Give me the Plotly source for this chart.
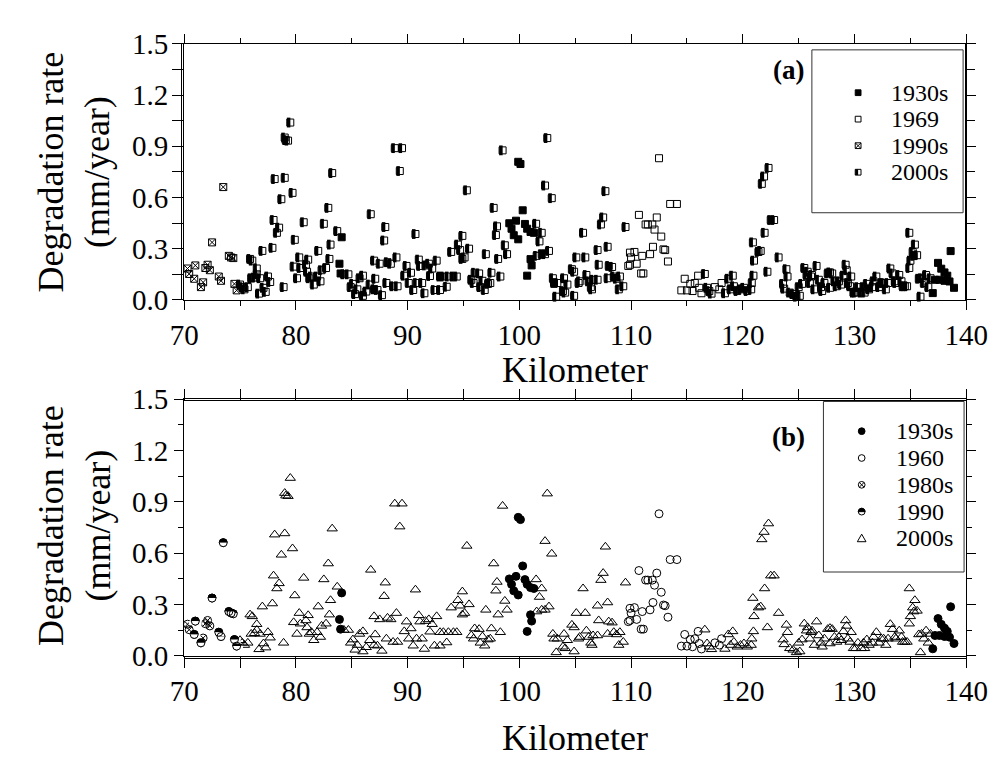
import math
import plotly.graph_objects as go

# ---------------- data (km, degradation rate mm/year) ----------------
km_1930s = [83.9, 84.0, 84.1,
            99.1, 99.3, 99.5, 99.7, 99.9, 99.9, 100.1, 100.3, 100.5, 100.7, 101.0, 101.3, 101.0, 101.1, 100.7,
            137.0, 137.2, 137.47, 137.6, 137.76, 138.05, 138.05, 138.3, 138.5, 138.6, 138.9]
rate_1930s = [0.212, 0.155, 0.367,
              0.449, 0.417, 0.379, 0.464, 0.355, 0.809, 0.796, 0.525, 0.445, 0.417, 0.398, 0.393, 0.239, 0.202, 0.142,
              0.040, 0.118, 0.217, 0.118, 0.183, 0.161, 0.112, 0.142, 0.108, 0.286, 0.071]

km_1960s = [109.75, 109.9, 109.9, 110.0, 110.3, 110.5, 110.7, 110.9, 111.0, 111.1, 111.3, 111.5, 111.7,
            111.9, 111.96, 112.1, 112.3, 112.5, 112.7, 112.9, 113.05, 113.3, 113.5, 114.1,
            114.5, 114.8, 115.0, 115.3, 115.5, 115.7, 116.0, 116.1, 116.3, 117.5, 117.9, 118.1]
rate_1960s = [0.199, 0.206, 0.277, 0.249, 0.281, 0.212, 0.498, 0.155, 0.258, 0.155, 0.442, 0.442, 0.268,
              0.442, 0.311, 0.412, 0.483, 0.830, 0.371, 0.296, 0.292, 0.225, 0.562, 0.562,
              0.056, 0.124, 0.056, 0.094, 0.052, 0.099, 0.142, 0.071, 0.039, 0.075, 0.062, 0.099]

km_1980s = [70.3, 70.45, 71.7, 71.9, 72.1, 72.3]
rate_1980s = [0.184, 0.152, 0.103, 0.187, 0.206, 0.174]

km_1990 = [70.9, 71.0, 71.5, 72.5, 73.1, 73.3, 73.5, 74.0, 74.2, 74.4, 74.5, 74.7]
rate_1990 = [0.124, 0.202, 0.075, 0.337, 0.137, 0.112, 0.661, 0.258, 0.249, 0.245, 0.094, 0.056]

km_2000s = [75.0, 75.2, 75.4, 75.7, 75.9, 76.0, 76.1, 76.3, 76.5, 76.5, 76.7, 76.8, 77.0, 77.1, 77.3, 77.5, 77.7,
            77.9, 78.0, 78.1, 78.3, 78.5, 78.7, 78.9, 79.0, 79.0, 79.1, 79.3, 79.5, 79.7, 79.8, 79.9, 80.1,
            80.3, 80.4, 80.7, 80.9, 81.0, 81.1, 81.2, 81.4, 81.6, 81.9, 82.0, 82.2, 82.3, 82.5, 82.7, 82.9,
            83.0, 83.1, 83.25, 83.7, 84.3, 84.7, 84.9, 85.1, 85.3, 85.5, 85.7, 86.0, 86.0, 86.3, 86.6, 86.7,
            87.0, 87.0, 87.1, 87.3, 87.5, 87.7, 87.9, 88.0, 88.1, 88.2, 88.5, 88.7, 88.85, 89.0, 89.1, 89.3,
            89.5, 89.7, 89.9, 90.1, 90.3, 90.5, 90.7, 90.8, 91.0, 91.1, 91.3, 91.5, 91.6, 91.9, 92.0, 92.2,
            92.4, 92.6, 92.9, 92.9, 93.2, 93.5, 93.65, 93.9, 94.1, 94.4, 94.5, 94.7, 94.9, 94.9, 95.1, 95.3,
            95.5, 95.7, 95.9, 96.0, 96.4, 96.5, 96.7, 96.9, 97.0, 97.2, 97.4, 97.5, 97.7, 97.9, 98.0, 98.1,
            98.3, 98.5, 98.7, 98.9, 101.5, 101.55, 101.8, 102.0, 102.0, 102.3, 102.3, 102.5, 102.65, 102.9,
            103.0, 103.1, 103.3, 103.4, 103.9, 104.0, 104.1, 104.3, 104.7, 104.9, 104.9, 105.1, 105.3, 105.4,
            105.7, 105.9, 106.0, 106.2, 106.4, 106.5, 106.6, 107.0, 107.0, 107.1, 107.3, 107.5, 107.7, 107.9,
            107.9, 108.0, 108.3, 108.45, 108.7, 108.9, 109.0, 109.3, 109.5, 116.6, 116.8, 117.0, 117.2,
            118.4, 118.7, 118.9, 119.1, 119.2, 119.5, 119.8, 120.1, 120.4, 120.75, 120.8, 120.95, 120.9,
            121.0, 121.4, 121.6, 121.7, 121.9, 121.95, 122.2, 122.3, 122.5, 122.8, 123.2, 123.6, 123.7,
            123.9, 124.0, 124.2, 124.5, 124.8, 125.0, 125.1, 125.3, 125.5, 125.7, 125.8, 126.0, 126.1,
            126.2, 126.4, 126.6, 126.8, 127.0, 127.1, 127.3, 127.6, 127.8, 127.8, 128.0, 128.2, 128.4,
            128.6, 128.8, 129.0, 129.2, 129.3, 129.4, 129.6, 129.7, 129.9, 130.1, 130.3, 130.6, 130.8,
            130.9, 131.1, 131.3, 131.6, 131.7, 131.95, 132.2, 132.4, 132.6, 132.8, 133.0, 133.2, 133.4,
            133.6, 133.7, 134.0, 134.2, 134.3, 134.5, 134.7, 134.9, 134.9, 135.0, 135.2, 135.3, 135.4,
            135.6, 135.75, 135.9, 136.0, 136.2, 136.4, 136.6, 136.8]
rate_2000s = [0.090, 0.075, 0.062, 0.075, 0.240, 0.127, 0.230, 0.131, 0.184, 0.150, 0.037, 0.127, 0.287, 0.071, 0.047, 0.137, 0.105,
              0.305, 0.468, 0.708, 0.393, 0.423, 0.590, 0.075, 0.715, 0.951, 0.936, 0.933, 1.039, 0.627, 0.195, 0.352, 0.127,
              0.249, 0.187, 0.455, 0.206, 0.165, 0.236, 0.127, 0.137, 0.090, 0.137, 0.287, 0.109, 0.174, 0.446, 0.187, 0.539,
              0.240, 0.324, 0.743, 0.403, 0.150, 0.150, 0.075, 0.094, 0.034, 0.062, 0.127, 0.142, 0.024, 0.049, 0.090, 0.502,
              0.230, 0.062, 0.124, 0.058, 0.212, 0.028, 0.348, 0.427, 0.099, 0.221, 0.212, 0.080, 0.889, 0.249, 0.080, 0.755,
              0.889, 0.142, 0.199, 0.099, 0.159, 0.058, 0.386, 0.099, 0.236, 0.199, 0.099, 0.039, 0.202, 0.212, 0.140, 0.184,
              0.058, 0.230, 0.058, 0.137, 0.137, 0.077, 0.137, 0.281, 0.137, 0.137, 0.324, 0.292, 0.240, 0.375, 0.249, 0.642,
              0.300, 0.118, 0.099, 0.159, 0.155, 0.075, 0.112, 0.058, 0.268, 0.094, 0.099, 0.159, 0.539, 0.380, 0.431, 0.240,
              0.137, 0.876, 0.320, 0.268, 0.446, 0.258, 0.343, 0.268, 0.393, 0.670, 0.268, 0.948, 0.287, 0.596,
              0.127, 0.099, 0.019, 0.099, 0.052, 0.127, 0.043, 0.090, 0.180, 0.165, 0.024, 0.249, 0.099, 0.109,
              0.393, 0.249, 0.146, 0.109, 0.075, 0.062, 0.118, 0.292, 0.118, 0.206, 0.442, 0.483, 0.637, 0.311,
              0.127, 0.199, 0.193, 0.137, 0.124, 0.062, 0.137, 0.080, 0.427, 0.152, 0.071, 0.052, 0.037,
              0.039, 0.124, 0.062, 0.142, 0.080, 0.052, 0.062, 0.071, 0.052, 0.062, 0.099, 0.142, 0.337,
              0.230, 0.281, 0.287, 0.680, 0.723, 0.393, 0.165, 0.773, 0.468, 0.468, 0.249, 0.094, 0.066,
              0.180, 0.137, 0.043, 0.034, 0.019, 0.075, 0.024, 0.094, 0.187, 0.146, 0.165, 0.099, 0.137,
              0.146, 0.062, 0.199, 0.118, 0.075, 0.052, 0.099, 0.155, 0.161, 0.071, 0.155, 0.109, 0.080,
              0.109, 0.090, 0.142, 0.206, 0.174, 0.099, 0.080, 0.137, 0.043, 0.043, 0.075, 0.043, 0.075,
              0.043, 0.094, 0.062, 0.075, 0.109, 0.137, 0.075, 0.099, 0.099, 0.062, 0.099, 0.184, 0.155,
              0.109, 0.099, 0.146, 0.109, 0.080, 0.080, 0.080, 0.187, 0.393, 0.230, 0.281, 0.258, 0.324,
              0.262, 0.124, 0.019, 0.127, 0.099, 0.146, 0.075, 0.127]

# top panel groups: 1930s, 1969, 1990s (= 1980s + 1990), 2000s
km_1990s = km_1980s + km_1990
rate_1990s = rate_1980s + rate_1990

legend_a = ["1930s", "1969", "1990s", "2000s"]
legend_b = ["1930s", "1960", "1980s", "1990", "2000s"]

# ---------------- layout helpers ----------------
W, H = 1006, 763
def px(x):
    return x / W
def py(y):
    return 1 - y / H

SERIF = "Liberation Serif, Times New Roman, serif"
SQ = 7      # square marker size (px)
CI = 8      # circle marker size (px)

fig = go.Figure()

def pts(x, y, ax, symbol, size, color="black", lw=1.0):
    return go.Scatter(x=x, y=y, mode="markers", xaxis=ax[0], yaxis=ax[1], cliponaxis=False,
                      showlegend=False, hoverinfo="skip",
                      marker=dict(symbol=symbol, size=size, color=color,
                                  line=dict(color=color, width=lw)))

# panel (a)  -- half-filled squares: open square + thick vertical bar on a half-width shifted axis
fig.add_trace(pts(km_1960s, rate_1960s, ("x", "y"), "square-open", SQ))
fig.add_trace(pts(km_1990s, rate_1990s, ("x", "y"), "square-x-open", SQ))
fig.add_trace(pts(km_1930s, rate_1930s, ("x", "y"), "square", SQ))
fig.add_trace(pts(km_2000s, rate_2000s, ("x", "y"), "square-open", SQ))
fig.add_trace(pts(km_2000s, rate_2000s, ("x3", "y"), "line-ns", SQ, lw=SQ / 2))

# panel (b)
fig.add_trace(pts(km_2000s, rate_2000s, ("x2", "y2"), "triangle-up-open", 9))
fig.add_trace(pts(km_1960s, rate_1960s, ("x2", "y2"), "circle-open", CI))
fig.add_trace(pts(km_1980s, rate_1980s, ("x2", "y2"), "circle-x-open", CI))
fig.add_trace(pts(km_1930s, rate_1930s, ("x2", "y2"), "circle", CI))
# half-filled circles (upper half black)
fig.add_trace(pts(km_1990, rate_1990, ("x2", "y2"), "circle", CI))
fig.add_trace(pts(km_1990, rate_1990, ("x2", "y4"), "line-ew", CI + 1, color="white", lw=CI / 2))
fig.add_trace(pts(km_1990, rate_1990, ("x2", "y5"), "circle-open", CI))

xdom = [px(167.3), px(979.3)]
ydom_a = [py(288.0), py(20.7)]
ydom_b = [py(659.3), py(391.7)]
shift_x = (SQ / 4) / W          # quarter of the square to the left
shift_y = (CI / 4) / H          # quarter of the circle downward

axis_common = dict(showline=True, linecolor="black", linewidth=1.2, mirror="allticks",
                   showgrid=False, zeroline=False, ticks="outside", tickcolor="black",
                   tickwidth=1.2, ticklen=9, tickfont=dict(family=SERIF, size=29, color="black"))
xcommon = dict(axis_common, range=[70, 140], tick0=70, dtick=10,
               minor=dict(dtick=5, ticks="outside", ticklen=5, tickcolor="black", tickwidth=1.2))
ycommon = dict(axis_common, range=[0, 1.5], tick0=0, dtick=0.3, tickformat=".1f",
               minor=dict(dtick=0.15, ticks="outside", ticklen=5, tickcolor="black", tickwidth=1.2))

fig.update_layout(
    width=W, height=H, autosize=False,
    margin=dict(l=0, r=0, t=0, b=0),
    paper_bgcolor="white", plot_bgcolor="rgba(0,0,0,0)",
    xaxis=dict(xcommon, domain=xdom, anchor="y"),
    yaxis=dict(ycommon, domain=ydom_a, anchor="x"),
    xaxis2=dict(xcommon, domain=xdom, anchor="y2"),
    yaxis2=dict(ycommon, domain=ydom_b, anchor="x2"),
    xaxis3=dict(range=[70, 140], domain=[xdom[0] - shift_x, xdom[1] - shift_x], anchor="y", visible=False),
    yaxis4=dict(range=[0, 1.5], domain=[ydom_b[0] - shift_y, ydom_b[1] - shift_y], anchor="x2", visible=False),
    yaxis5=dict(range=[0, 1.5], domain=ydom_b, anchor="x2", visible=False),
)

ann = []
for cy in (155, 524):
    ann.append(dict(x=px(53), y=py(cy), xref="paper", yref="paper", text="Degradation rate<br>(mm/year)",
                    textangle=-90, showarrow=False, xanchor="center", yanchor="middle",
                    font=dict(family=SERIF, size=36, color="black")))
for cy in (361, 745):
    ann.append(dict(x=px(573), y=py(cy), xref="paper", yref="paper", text="Kilometer",
                    showarrow=False, xanchor="center", yanchor="middle",
                    font=dict(family=SERIF, size=36, color="black")))
ann.append(dict(x=px(795), y=py(48), xref="paper", yref="paper", text="<b>(a)</b>", showarrow=False,
                xanchor="center", yanchor="middle", font=dict(family=SERIF, size=27, color="black")))
ann.append(dict(x=px(795), y=py(431), xref="paper", yref="paper", text="<b>(b)</b>", showarrow=False,
                xanchor="center", yanchor="middle", font=dict(family=SERIF, size=27, color="black")))

rows_a = [71.7, 99.3, 127.0, 154.7]
rows_b = [425, 453, 481, 509, 537]
for lab, ry in zip(legend_a, rows_a):
    ann.append(dict(x=px(899), y=py(ry), xref="paper", yref="paper", text=lab, showarrow=False,
                    xanchor="left", yanchor="middle", font=dict(family=SERIF, size=24, color="black")))
for lab, ry in zip(legend_b, rows_b):
    ann.append(dict(x=px(904), y=py(ry), xref="paper", yref="paper", text=lab, showarrow=False,
                    xanchor="left", yanchor="middle", font=dict(family=SERIF, size=24, color="black")))

# ---------- legend boxes and keys drawn as shapes ----------
shapes = [
    dict(type="rect", xref="paper", yref="paper", x0=px(819), x1=px(976), y0=py(197), y1=py(27),
         line=dict(color="#333333", width=1), fillcolor="rgba(0,0,0,0)"),
    dict(type="rect", xref="paper", yref="paper", x0=px(831), x1=px(977), y0=py(572), y1=py(394),
         line=dict(color="#333333", width=1), fillcolor="rgba(0,0,0,0)"),
]
LK = dict(color="black", width=1)

def rect(cx, cy, h, fill=None):
    return dict(type="rect", xref="paper", yref="paper", x0=px(cx - h), x1=px(cx + h),
                y0=py(cy + h), y1=py(cy - h), line=LK, fillcolor=fill or "rgba(0,0,0,0)")

def seg(xa, ya, xb, yb):
    return dict(type="line", xref="paper", yref="paper", x0=px(xa), y0=py(ya), x1=px(xb), y1=py(yb), line=LK)

def circ(cx, cy, r, fill=None):
    return dict(type="circle", xref="paper", yref="paper", x0=px(cx - r), x1=px(cx + r),
                y0=py(cy + r), y1=py(cy - r), line=LK, fillcolor=fill or "rgba(0,0,0,0)")

def poly(points, fill):
    d = "M " + " L ".join(f"{px(a):.5f},{py(b):.5f}" for a, b in points) + " Z"
    return dict(type="path", xref="paper", yref="paper", path=d, line=LK, fillcolor=fill)

h = 3.0
kx = 867
shapes.append(rect(kx, rows_a[0], h, "black"))
shapes.append(rect(kx, rows_a[1], h))
shapes.append(rect(kx, rows_a[2], h))
shapes.append(seg(kx - h, rows_a[2] - h, kx + h, rows_a[2] + h))
shapes.append(seg(kx - h, rows_a[2] + h, kx + h, rows_a[2] - h))
shapes.append(dict(type="rect", xref="paper", yref="paper", x0=px(kx - h), x1=px(kx),
                   y0=py(rows_a[3] + h), y1=py(rows_a[3] - h), line=dict(width=0), fillcolor="black"))
shapes.append(rect(kx, rows_a[3], h))

r = 3.5
kb = 870.7
shapes.append(circ(kb, rows_b[0], r, "black"))
shapes.append(circ(kb, rows_b[1], r))
shapes.append(circ(kb, rows_b[2], r))
d = r * 0.7071
shapes.append(seg(kb - d, rows_b[2] - d, kb + d, rows_b[2] + d))
shapes.append(seg(kb - d, rows_b[2] + d, kb + d, rows_b[2] - d))
half = [(kb + r * math.cos(math.pi * k / 12), rows_b[3] - r * math.sin(math.pi * k / 12)) for k in range(13)]
shapes.append(poly(half, "black"))
shapes.append(circ(kb, rows_b[3], r))
t = 4.5
shapes.append(poly([(kb - t, rows_b[4] + t * 0.75), (kb + t, rows_b[4] + t * 0.75), (kb, rows_b[4] - t)],
                   "rgba(0,0,0,0)"))

fig.update_layout(annotations=ann, shapes=shapes)

fig.write_html("out.html")
